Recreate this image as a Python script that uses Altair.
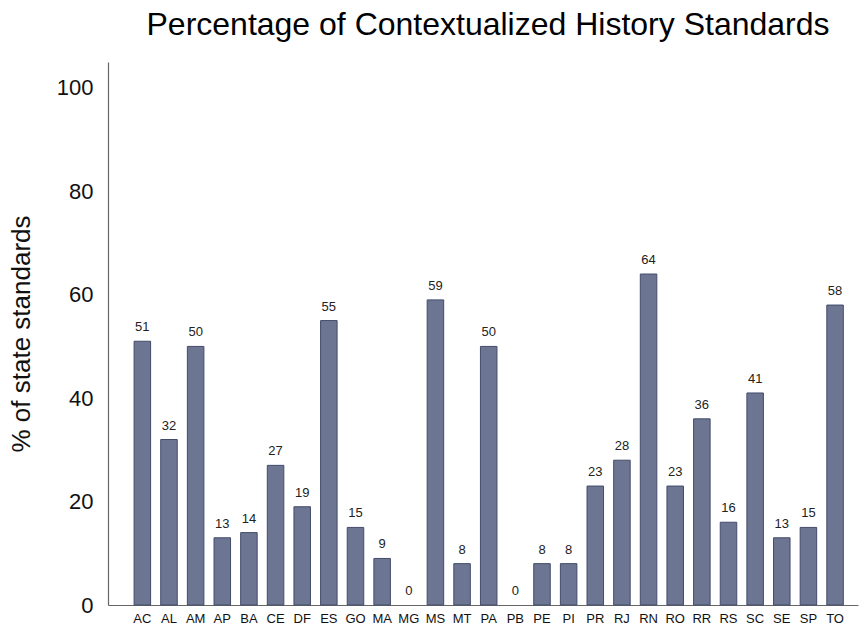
import altair as alt
import pandas as pd

states = ["AC", "AL", "AM", "AP", "BA", "CE", "DF", "ES", "GO", "MA", "MG", "MS", "MT", "PA",
          "PB", "PE", "PI", "PR", "RJ", "RN", "RO", "RR", "RS", "SC", "SE", "SP", "TO"]
percent = [51, 32, 50, 13, 14, 27, 19, 55, 15, 9, 0, 59, 8, 50,
           0, 8, 8, 23, 28, 64, 23, 36, 16, 41, 13, 15, 58]

df = pd.DataFrame({"state": states, "pct": percent})

FONT = "Liberation Sans"

x = alt.X(
    "state:N",
    sort=states,
    title=None,
    scale=alt.Scale(paddingInner=0.38, paddingOuter=0.765, align=0.64),
    axis=alt.Axis(
        labelAngle=0, labelFont=FONT, labelFontSize=13, labelColor="#111111",
        ticks=False, labelPadding=7, domainColor="#666666", domainWidth=1.2,
    ),
)
y = alt.Y(
    "pct:Q",
    title="% of state standards",
    scale=alt.Scale(domain=[0, 105], nice=False),
    axis=alt.Axis(
        values=[0, 20, 40, 60, 80, 100], grid=False, ticks=False,
        labelFont=FONT, labelFontSize=22, labelColor="#111111", labelPadding=15,
        titleFont=FONT, titleFontSize=26, titleFontWeight="normal", titleColor="#111111",
        titlePadding=22, domainColor="#666666", domainWidth=1.2,
    ),
)

# bars with no height get no outline
bars = alt.Chart(df).mark_bar(
    color="#6c7592", stroke="#434c6b", strokeWidth=1
).encode(
    x=x,
    y=y,
    strokeOpacity=alt.condition("datum.pct > 0", alt.value(1), alt.value(0)),
)

labels = alt.Chart(df).mark_text(
    dy=-10, baseline="alphabetic", font=FONT, fontSize=13, color="#222222"
).encode(x=x, y="pct:Q", text="pct:Q")

chart = (
    alt.layer(bars, labels)
    .properties(
        width=750,
        height=543,
        autosize=alt.AutoSizeParams(type="none"),
        padding={"left": 108, "top": 62, "right": 1, "bottom": 24},
        title=alt.TitleParams(
            "Percentage of Contextualized History Standards",
            font=FONT, fontSize=32, fontWeight="normal", color="#000000",
            anchor="middle", offset=20, dx=5,
        ),
    )
    .configure_view(stroke=None)
)

chart.save("out.html", embed_options={"renderer": "svg", "actions": False})
